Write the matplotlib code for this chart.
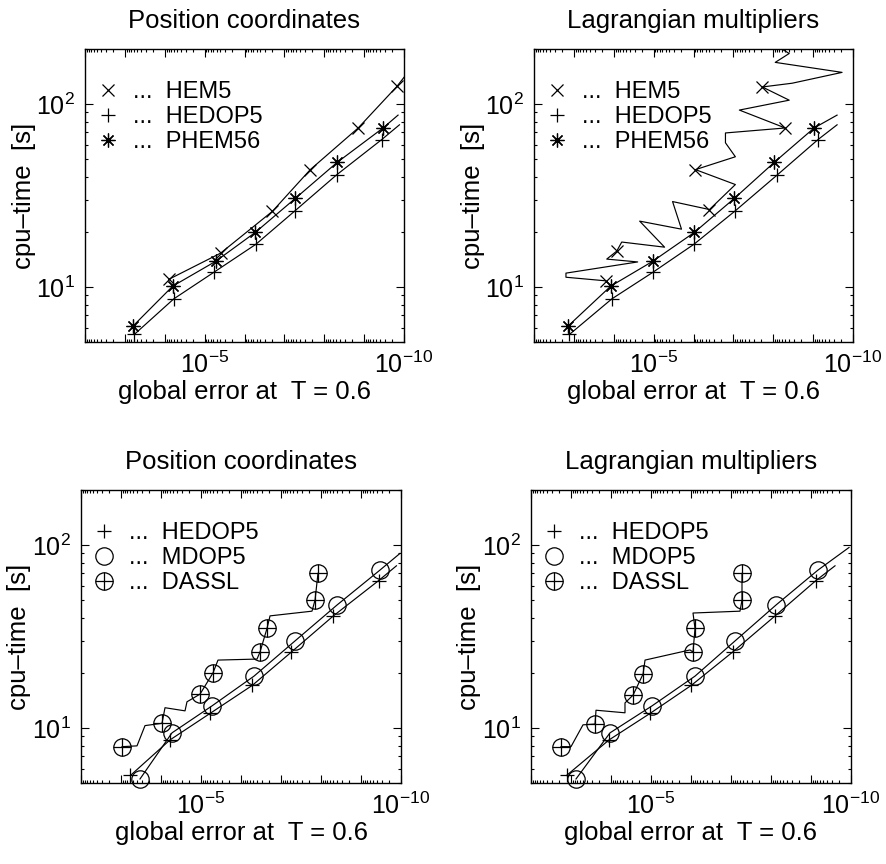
import numpy as np
import matplotlib
matplotlib.use('Agg')
import matplotlib.pyplot as plt
from matplotlib.lines import Line2D
from matplotlib.ticker import FixedLocator, FuncFormatter, NullFormatter, LogLocator

plt.rcParams['font.family'] = ['Liberation Sans', 'DejaVu Sans']

# ---------------- data (global error, cpu-time [s]) ----------------
# HEDOP5, same runs in both "position" and "lagrange" panels
hedop5_cpu = [5.5, 8.6, 12.0, 17.1, 26.0, 41.0, 64.0, 77.0]
hedop5_pos_err = [5.8e-4, 5.96e-5, 5.96e-6, 5.2e-7, 5.5e-8, 4.9e-9, 3.6e-10, 1.3e-10]
hedop5_lag_err = [1.29e-3, 1.12e-4, 1.06e-5, 9.8e-7, 9.1e-8, 7.9e-9, 7.5e-10, 2.51e-10]

phem56_cpu = [6.1, 10.1, 13.8, 19.9, 30.5, 48.0, 74.0, 87.0]
phem56_pos_err = [6.31e-4, 6.31e-5, 5.31e-6, 5.31e-7, 5.31e-8, 4.73e-9, 3.35e-10, 1.41e-10]
phem56_lag_err = [1.41e-3, 1.19e-4, 1.06e-5, 9.44e-7, 9.44e-8, 9.44e-9, 9.44e-10, 2.51e-10]

hem5_pos_cpu = [11.0, 15.3, 25.9, 43.8, 74.0, 125.0, 140.0]
hem5_pos_err = [7.94e-5, 3.98e-6, 2.0e-7, 2.24e-8, 1.41e-9, 1.50e-10, 1.0e-10]
hem5_pos_marks = [0, 1, 2, 3, 4, 5]

hem5_lag_cpu = [10.8, 11.3, 11.9, 13.7, 14.2, 15.7, 17.6, 16.5, 22.9, 20.7, 29.3,
                26.5, 36.3, 43.8, 51.5, 61.4, 69.5, 74.0, 92.7, 105.0, 124.0, 130.0,
                149.0, 169.0, 189.0, 220.0]
hem5_lag_err = [1.58e-4, 1.58e-3, 1.58e-3, 2.51e-5, 1.50e-4, 8.41e-5, 6.31e-5,
                5.31e-6, 2.24e-5, 2.0e-6, 3.35e-6, 3.98e-7, 8.91e-8, 8.91e-7, 8.91e-8,
                1.58e-7, 1.58e-7, 5.01e-9, 7.08e-8, 3.98e-9, 1.88e-8, 3.35e-9, 1.88e-10,
                8.91e-9, 3.98e-9, 1.26e-8]
hem5_lag_marks = [0, 5, 11, 13, 17, 20]

mdop5_pos_cpu = [5.26, 9.4, 13.2, 19.2, 29.9, 47.0, 73.0, 90.0]
mdop5_pos_err = [3.35e-4, 5.31e-5, 5.31e-6, 4.73e-7, 4.47e-8, 3.98e-9, 3.35e-10, 1.06e-10]
mdop5_lag_cpu = [5.26, 9.4, 13.2, 19.2, 29.9, 47.0, 73.0, 97.0]
mdop5_lag_err = [7.5e-4, 1.06e-4, 9.44e-6, 7.94e-7, 7.94e-8, 7.5e-9, 6.68e-10, 1.12e-10]

dassl_pos_cpu = [7.9, 7.98, 10.3, 10.6, 12.9, 12.4, 13.9, 15.3, 20.0, 23.5, 23.8, 26.0,
                 35.0, 41.0, 43.5, 50.0, 70.0]
dassl_pos_err = [9.44e-4, 3.98e-4, 2.51e-4, 9.44e-5, 7.94e-5, 2.51e-5, 2.24e-5, 1.06e-5,
                 5.01e-6, 3.76e-6, 3.98e-7, 3.35e-7, 2.24e-7, 1.88e-7, 1.68e-8, 1.41e-8,
                 1.19e-8]
dassl_lag_cpu = [7.9, 7.9, 10.4, 10.5, 12.5, 12.1, 13.7, 15.1, 19.7, 23.5, 26.7, 26.0,
                 35.0, 42.5, 43.5, 50.0, 70.0]
dassl_lag_err = [1.78e-3, 1.0e-3, 5.01e-4, 2.51e-4, 2.37e-4, 4.47e-5, 4.47e-5, 2.82e-5,
                 1.58e-5, 1.41e-5, 1.06e-6, 8.91e-7, 7.94e-7, 8.91e-7, 5.96e-8, 5.31e-8,
                 5.31e-8]
dassl_marks = [0, 3, 7, 8, 11, 12, 15, 16]

x_decades = [-2, -3, -4, -5, -6, -7, -8, -9, -10]
x_labelled = [-5, -10]
y_major = [10, 100]

titles = ['Position coordinates', 'Lagrangian multipliers']
xlab = 'global error at  T = 0.6'
ylab = 'cpu\u2013time  [s]'

LW = 0.85
MEW = 0.9
sty_x = dict(marker='x', ms=8, mew=MEW)
sty_p = dict(marker='+', ms=10, mew=MEW)
sty_s = dict(marker=(8, 2, 0), ms=10, mew=MEW)
sty_o = dict(marker='o', ms=12.5, mew=MEW, mfc='none')
sty_op = dict(marker='+', ms=12.5, mew=MEW)


def xfmt(v, pos):
    e = int(round(np.log10(v)))
    if e in x_labelled:
        return r'$\mathdefault{10^{%d}}$' % e
    return ''


def setup(ax, title):
    ax.set_xscale('log')
    ax.set_yscale('log')
    ax.set_xlim(1e-2, 1e-10)
    ax.set_ylim(5, 200)
    ax.xaxis.set_major_locator(FixedLocator([10.0 ** k for k in x_decades]))
    ax.xaxis.set_major_formatter(FuncFormatter(xfmt))
    ax.xaxis.set_minor_locator(LogLocator(base=10, subs=np.arange(2, 10), numticks=30))
    ax.xaxis.set_minor_formatter(NullFormatter())
    ax.yaxis.set_major_locator(FixedLocator(y_major))
    ax.yaxis.set_minor_locator(LogLocator(base=10, subs=np.arange(2, 10), numticks=30))
    ax.yaxis.set_minor_formatter(NullFormatter())
    ax.tick_params(which='both', direction='in', top=True, right=True, width=0.8,
                   labelsize=18, pad=7)
    ax.tick_params(which='major', length=6)
    ax.tick_params(which='minor', length=2.5)
    for s in ax.spines.values():
        s.set_linewidth(1.0)
    ax.set_title(title, fontsize=18.5, pad=15)
    ax.set_xlabel(xlab, fontsize=18.5)
    ax.set_ylabel(ylab, fontsize=18.5)
    ax.xaxis.set_label_coords(0.5, -0.13)
    ax.yaxis.set_label_coords(-0.155, 0.5)


def line(ax, x, y, sty, marks=None):
    # line clipped to the box, markers drawn on top without clipping (like MATLAB)
    ax.plot(x, y, color='k', lw=LW, marker='none')
    ax.plot(x, y, color='k', ls='none', mec='k', markevery=marks, clip_on=False, **sty)


def legend(ax, handles, labels):
    ax.legend(handles, labels, loc='upper left', bbox_to_anchor=(0.04, 0.89),
              frameon=False, fontsize=17, handlelength=0.9, handletextpad=0.6,
              labelspacing=0.12, borderaxespad=0, borderpad=0)


fig = plt.figure(figsize=(8.86, 8.64), dpi=100)
W, H = 886.0, 864.0
ax_tl = fig.add_axes([85 / W, 1 - 342 / H, 319 / W, 293 / H])
ax_tr = fig.add_axes([534 / W, 1 - 342 / H, 319 / W, 293 / H])
ax_bl = fig.add_axes([81 / W, 1 - 783 / H, 320 / W, 293 / H])
ax_br = fig.add_axes([531 / W, 1 - 783 / H, 320 / W, 293 / H])

mk = list(range(7))
lab_top = ['...  HEM5', '...  HEDOP5', '...  PHEM56']
lab_bot = ['...  HEDOP5', '...  MDOP5', '...  DASSL']

# top row
for ax, t, hx, hy, hm, ex_p, ex_s in [
        (ax_tl, titles[0], hem5_pos_err, hem5_pos_cpu, hem5_pos_marks, hedop5_pos_err, phem56_pos_err),
        (ax_tr, titles[1], hem5_lag_err, hem5_lag_cpu, hem5_lag_marks, hedop5_lag_err, phem56_lag_err)]:
    setup(ax, t)
    line(ax, hx, hy, sty_x, hm)
    line(ax, ex_p, hedop5_cpu, sty_p, mk)
    line(ax, ex_s, phem56_cpu, sty_s, mk)
    hs = [Line2D([], [], ls='none', color='k', **sty_x),
          Line2D([], [], ls='none', color='k', **sty_p),
          Line2D([], [], ls='none', color='k', **sty_s)]
    legend(ax, hs, lab_top)

# bottom row
for ax, t, ex_p, mx, my, dx, dy in [
        (ax_bl, titles[0], hedop5_pos_err, mdop5_pos_err, mdop5_pos_cpu, dassl_pos_err, dassl_pos_cpu),
        (ax_br, titles[1], hedop5_lag_err, mdop5_lag_err, mdop5_lag_cpu, dassl_lag_err, dassl_lag_cpu)]:
    setup(ax, t)
    line(ax, ex_p, hedop5_cpu, sty_p, mk)
    line(ax, mx, my, sty_o, mk)
    line(ax, dx, dy, sty_o, dassl_marks)
    ax.plot(dx, dy, ls='none', color='k', markevery=dassl_marks, clip_on=False, **sty_op)
    hs = [Line2D([], [], ls='none', color='k', **sty_p),
          Line2D([], [], ls='none', color='k', **sty_o),
          (Line2D([], [], ls='none', color='k', **sty_o),
           Line2D([], [], ls='none', color='k', **sty_op))]
    legend(ax, hs, lab_bot)

fig.savefig('out.png', dpi=100)
